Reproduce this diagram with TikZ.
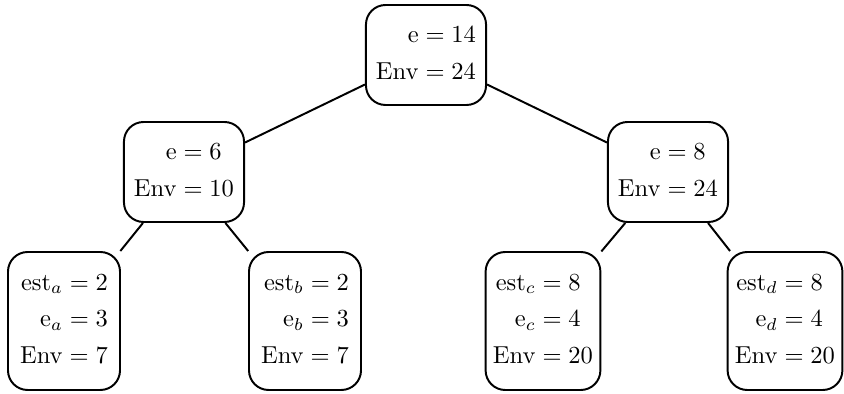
\documentclass[tikz,border=0pt]{standalone}
\usepackage{amsmath}
\begin{document}
\begin{tikzpicture}[x=0.408pt,y=-0.408pt,
  box/.style={draw,line width=0.8pt,rounded corners=8pt,inner sep=3pt,align=center},
  inner/.style={box,minimum width=49pt,minimum height=40.8pt},
  leaf/.style={box,minimum width=45.7pt,minimum height=56.3pt},
  edge/.style={line width=0.8pt}]
\useasboundingbox (0,0) rectangle (844,394);
\node[inner] (r) at (426,55) {$\begin{aligned}\mathrm{e}&=14\\ \mathrm{Env}&=24\end{aligned}$};
\node[inner] (l) at (184,172) {$\begin{aligned}\mathrm{e}&=6\\ \mathrm{Env}&=10\end{aligned}$};
\node[inner] (rr) at (668,172) {$\begin{aligned}\mathrm{e}&=8\\ \mathrm{Env}&=24\end{aligned}$};
\node[leaf] (a) at (64,321) {$\begin{aligned}\mathrm{est}_a&=2\\ \mathrm{e}_a&=3\\ \mathrm{Env}&=7\end{aligned}$};
\node[leaf] (b) at (305,321) {$\begin{aligned}\mathrm{est}_b&=2\\ \mathrm{e}_b&=3\\ \mathrm{Env}&=7\end{aligned}$};
\node[leaf] (c) at (543,321) {$\begin{aligned}\mathrm{est}_c&=8\\ \mathrm{e}_c&=4\\ \mathrm{Env}&=20\end{aligned}$};
\node[leaf] (d) at (785,321) {$\begin{aligned}\mathrm{est}_d&=8\\ \mathrm{e}_d&=4\\ \mathrm{Env}&=20\end{aligned}$};
\draw[edge] (r) -- (l);
\draw[edge] (r) -- (rr);
\draw[edge] (l) -- (a);
\draw[edge] (l) -- (b);
\draw[edge] (rr) -- (c);
\draw[edge] (rr) -- (d);
\end{tikzpicture}
\end{document}
